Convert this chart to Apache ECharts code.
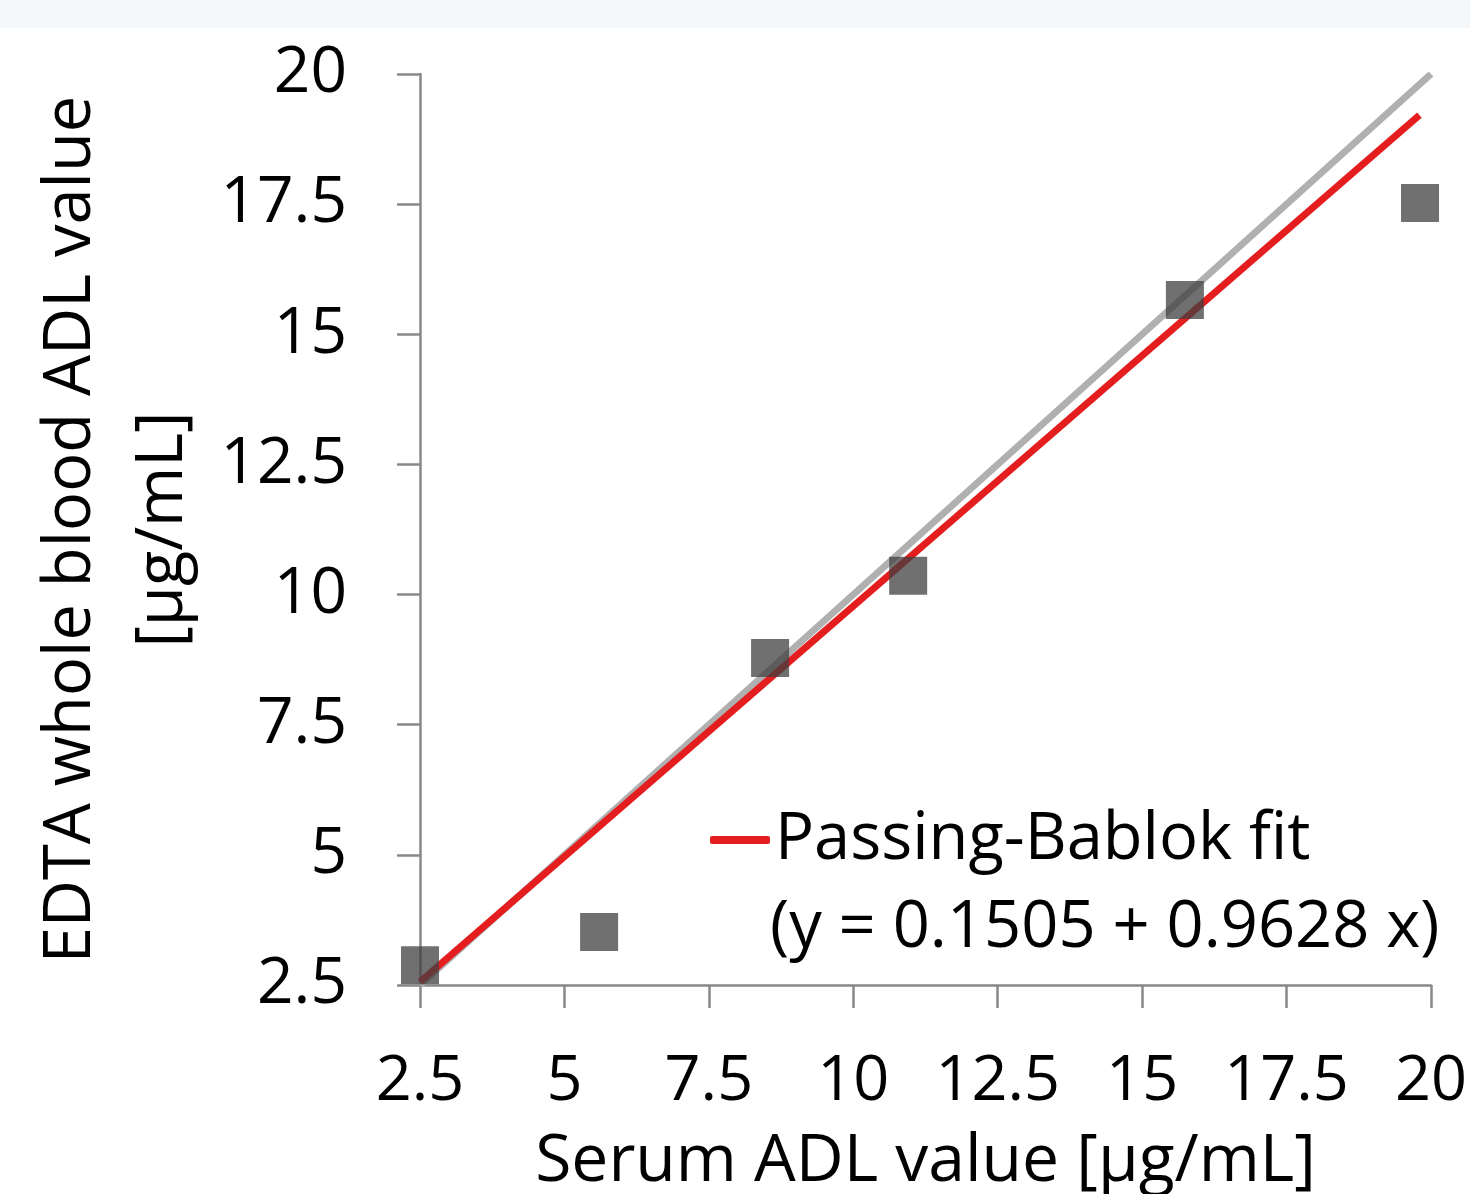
<!DOCTYPE html>
<html lang="en">

<head>
    <meta charset="UTF-8">
    <title>Serum vs EDTA whole blood ADL</title>
    <script src="https://cdn.jsdelivr.net/npm/echarts@6/dist/echarts.min.js"></script>
    <style>
        html, body { margin: 0; padding: 0; background: #fff; overflow: hidden; }
        #strip { position: absolute; left: 0; top: 0; width: 1470px; height: 28px; background: #f5f8fb; }
        #box { position: absolute; left: 0; top: 0; width: 1470px; height: 1194px; }
    </style>
</head>

<body>
    <div id="strip"></div>
    <div id="box"></div>
    <script>
        // measured points: serum (x) vs EDTA whole blood (y), ug/mL
        var serum = [2.5, 5.6, 8.56, 10.95, 15.74, 19.81];
        var wholeBlood = [2.88, 3.52, 8.78, 10.36, 15.66, 17.52];
        // line of identity and Passing-Bablok fit, end points
        var identityLine = [[2.5, 2.5], [20, 20]];
        var fitLine = [[2.5, 2.56], [19.8, 19.21]];
        var fitName = 'Passing-Bablok fit';
        var fitEquation = '(y = 0.1505 + 0.9628 x)';

        var font = '"Open Sans", "Noto Sans", sans-serif';
        var axisGray = '#898989';

        var chart = echarts.init(document.getElementById('box'));

        var points = serum.map(function (x, i) {
            return [x, wholeBlood[i]];
        });

        var axisCommon = {
            type: 'value',
            min: 2.5,
            max: 20,
            interval: 2.5,
            splitLine: { show: false },
            axisLine: { show: true, lineStyle: { color: axisGray, width: 2.5 } },
            axisTick: { show: true, inside: false, length: 23, lineStyle: { color: axisGray, width: 2.5 } },
            nameLocation: 'middle'
        };

        chart.setOption({
            animation: false,
            textStyle: { fontFamily: font },
            // keep the plot box fixed, the x name is allowed to run off the bottom
            grid: { left: 420, right: 39, top: 74, bottom: 209, outerBoundsMode: 'none', containLabel: false },
            legend: {
                data: [fitName],
                left: 705,
                top: 795,
                icon: 'roundRect',
                itemWidth: 60,
                itemHeight: 8,
                textStyle: { color: '#000', fontFamily: font, fontSize: 65, lineHeight: 80 }
            },
            graphic: [{
                type: 'text',
                left: 770,
                top: 896,
                style: { text: fitEquation, fill: '#000', font: '65px ' + font }
            }],
            xAxis: Object.assign({}, axisCommon, {
                name: 'Serum ADL value [µg/mL]',
                nameGap: 137,
                nameTextStyle: { color: '#000', fontFamily: font, fontSize: 66, lineHeight: 80 },
                axisLabel: { color: '#000', fontFamily: font, fontSize: 63, lineHeight: 62, margin: 66 }
            }),
            yAxis: Object.assign({}, axisCommon, {
                name: 'EDTA whole blood ADL value\n[µg/mL]',
                nameGap: 200,
                nameRotate: 90,
                nameTextStyle: { color: '#000', fontFamily: font, fontSize: 65, lineHeight: 92 },
                axisLabel: { color: '#000', fontFamily: font, fontSize: 64, margin: 73 }
            }),
            series: [
                {
                    name: 'identity',
                    type: 'line',
                    data: identityLine,
                    showSymbol: false,
                    silent: true,
                    z: 1,
                    lineStyle: { color: '#b0b0b0', width: 7 }
                },
                {
                    name: fitName,
                    type: 'line',
                    data: fitLine,
                    showSymbol: false,
                    z: 2,
                    itemStyle: { color: '#e41e1e' },
                    lineStyle: { color: '#e41e1e', width: 7 }
                },
                {
                    name: 'samples',
                    type: 'scatter',
                    data: points,
                    symbol: 'rect',
                    symbolSize: 38,
                    z: 3,
                    itemStyle: { color: '#404040', opacity: 0.75 }
                }
            ]
        });
    </script>
</body>

</html>
